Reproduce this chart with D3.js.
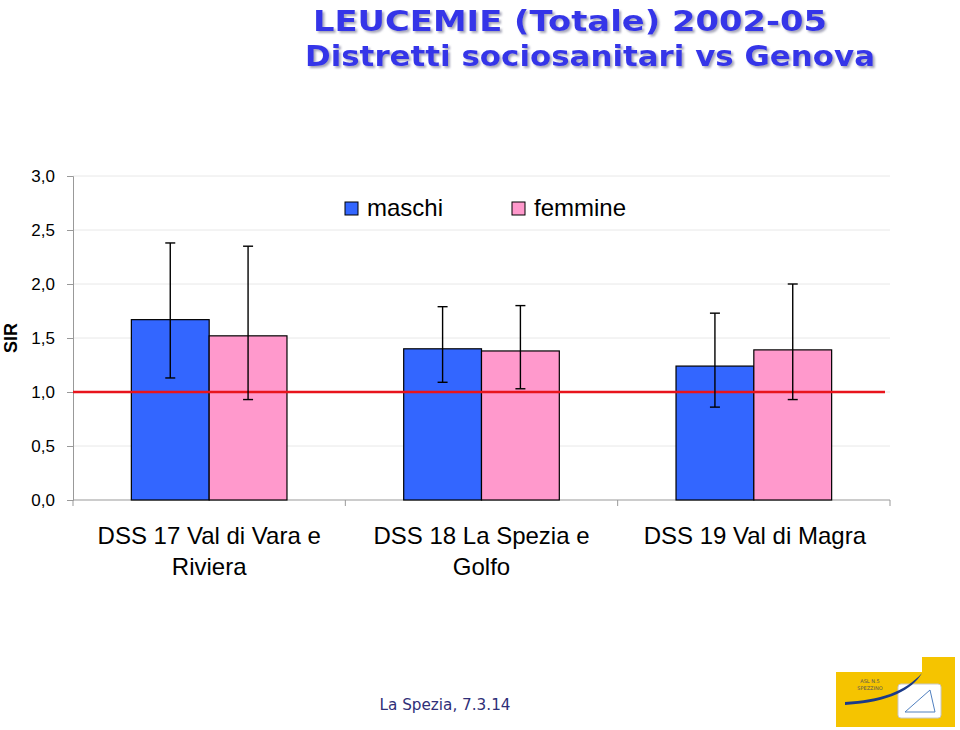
<!DOCTYPE html>
<html><head><meta charset="utf-8">
<script src="https://cdn.jsdelivr.net/npm/d3@7"></script>
<style>body{margin:0;background:#fff;}svg{display:block;}</style>
</head><body>
<script>
const categories = [["DSS 17 Val di Vara e","Riviera"],["DSS 18 La Spezia e","Golfo"],["DSS 19 Val di Magra"]];
const seriesNames = ["maschi","femmine"];
const maschi = [1.67, 1.40, 1.24];
const femmine = [1.52, 1.38, 1.39];
const maschiLow = [1.13, 1.09, 0.86];
const maschiHigh = [2.38, 1.79, 1.73];
const femmineLow = [0.93, 1.03, 0.93];
const femmineHigh = [2.35, 1.80, 2.00];
const yTicks = [0, 0.5, 1.0, 1.5, 2.0, 2.5, 3.0];
const reference = 1.0;

const W = 960, H = 730;
const svg = d3.select("body").append("svg").attr("width", W).attr("height", H);

const defs = svg.append("defs");
const f = defs.append("filter").attr("id", "shadow").attr("x", "-5%").attr("y", "-20%").attr("width", "110%").attr("height", "150%");
f.append("feDropShadow").attr("dx", 2).attr("dy", 2).attr("stdDeviation", 0.8)
  .attr("flood-color", "#9090a8").attr("flood-opacity", 0.8);

// Title with shadow
const titleFont = "'DejaVu Sans', sans-serif";
function shadowText(txt, x, y, len) {
  svg.append("text").attr("x", x).attr("y", y).attr("text-anchor","middle")
    .attr("font-family", titleFont).attr("font-weight","bold").attr("font-size", 28)
    .attr("fill","#3636e8").attr("filter", "url(#shadow)")
    .attr("textLength", len).attr("lengthAdjust","spacingAndGlyphs").text(txt);
}
shadowText("LEUCEMIE (Totale) 2002-05", 570, 31, 514);
shadowText("Distretti sociosanitari vs Genova", 590, 66, 570);

// Chart
const x0 = d3.scaleBand().domain(d3.range(categories.length)).range([73, 890]).paddingInner(0).paddingOuter(0);
const x1 = d3.scaleBand().domain(seriesNames).range([0, x0.bandwidth()]).paddingInner(0).paddingOuter(0.75);
const y = d3.scaleLinear().domain([0, 3]).range([500, 176]);

// gridlines
svg.append("g").selectAll("line").data(yTicks.slice(1)).join("line")
  .attr("x1", 73).attr("x2", 890).attr("y1", d => y(d)).attr("y2", d => y(d))
  .attr("stroke", "#e8e8e8").attr("stroke-width", 1);

// y axis
const yAxis = d3.axisLeft(y).tickValues(yTicks).tickSize(6).tickPadding(12)
  .tickFormat(d => d3.format(".1f")(d).replace(".", ","));
const gy = svg.append("g").attr("transform", "translate(73,0)").call(yAxis);
gy.select(".domain").attr("stroke", "#999");
gy.selectAll(".tick line").attr("stroke", "#999");
gy.selectAll("text").attr("font-family", "'Liberation Sans', Arial, sans-serif").attr("font-size", 17).attr("fill", "#000");

svg.append("text").attr("transform", "translate(17,338) rotate(-90)").attr("text-anchor", "middle")
  .attr("font-family", "'Liberation Sans', Arial, sans-serif").attr("font-weight", "bold").attr("font-size", 18).text("SIR");

// x axis
const gx = svg.append("g").attr("transform", "translate(0,500)");
gx.append("line").attr("x1", 73).attr("x2", 890).attr("stroke", "#999");
gx.selectAll("line.t").data([0,1,2,3]).join("line").attr("class","t")
  .attr("x1", d => 73 + d * x0.bandwidth()).attr("x2", d => 73 + d * x0.bandwidth())
  .attr("y1", 0).attr("y2", 6).attr("stroke", "#999");
categories.forEach((lines, i) => {
  const t = gx.append("text").attr("text-anchor", "middle")
    .attr("font-family", "'Liberation Sans', Arial, sans-serif").attr("font-size", 24).attr("fill", "#000");
  lines.forEach((l, j) => t.append("tspan").attr("x", x0(i) + x0.bandwidth()/2 + (i===2?1:0)).attr("y", 44 + j*31).text(l));
});

// bars
const colors = {maschi: "#3366ff", femmine: "#ff99cc"};
const data = seriesNames.map(s => ({name: s, vals: s === "maschi" ? maschi : femmine,
  lo: s === "maschi" ? maschiLow : femmineLow, hi: s === "maschi" ? maschiHigh : femmineHigh}));
data.forEach(s => {
  s.vals.forEach((v, i) => {
    svg.append("rect").attr("x", x0(i) + x1(s.name)).attr("y", y(v))
      .attr("width", x1.bandwidth()).attr("height", y(0) - y(v))
      .attr("fill", colors[s.name]).attr("stroke", "#000").attr("stroke-width", 1.2);
  });
});

// reference line
svg.append("line").attr("x1", 73).attr("x2", 885).attr("y1", y(reference)).attr("y2", y(reference))
  .attr("stroke", "#e8141c").attr("stroke-width", 2.5);

// error bars
data.forEach(s => {
  s.vals.forEach((v, i) => {
    const cx = x0(i) + x1(s.name) + x1.bandwidth()/2;
    const g = svg.append("g").attr("stroke", "#000").attr("stroke-width", 1.4);
    g.append("line").attr("x1", cx).attr("x2", cx).attr("y1", y(s.hi[i])).attr("y2", y(s.lo[i]));
    g.append("line").attr("x1", cx-5).attr("x2", cx+5).attr("y1", y(s.hi[i])).attr("y2", y(s.hi[i]));
    g.append("line").attr("x1", cx-5).attr("x2", cx+5).attr("y1", y(s.lo[i])).attr("y2", y(s.lo[i]));
  });
});

// legend
const leg = svg.append("g");
[[345, 367, "maschi"], [512, 534, "femmine"]].forEach(([bx, tx, name]) => {
  leg.append("rect").attr("x", bx).attr("y", 202).attr("width", 13).attr("height", 13)
    .attr("fill", colors[name]).attr("stroke", "#000").attr("stroke-width", 1);
  leg.append("text").attr("x", tx).attr("y", 216).attr("font-family", "'Liberation Sans', Arial, sans-serif")
    .attr("font-size", 24).text(name);
});

// footer
svg.append("text").attr("x", 445).attr("y", 710).attr("text-anchor", "middle")
  .attr("font-family", "'DejaVu Sans', sans-serif").attr("font-size", 16).attr("fill", "#2f2f78")
  .attr("textLength", 131).attr("lengthAdjust", "spacingAndGlyphs").text("La Spezia, 7.3.14");

// logo
const logo = svg.append("g");
logo.append("rect").attr("x", 922).attr("y", 657).attr("width", 33).attr("height", 70).attr("fill", "#f5c400");
logo.append("rect").attr("x", 836).attr("y", 672).attr("width", 119).attr("height", 55).attr("fill", "#f5c400");
logo.append("rect").attr("x", 898).attr("y", 684).attr("width", 43).attr("height", 34).attr("rx", 3)
  .attr("fill", "#fff").attr("stroke", "#c8c8c8");
logo.append("path").attr("d", "M845,702 C880,700 905,692 922,673 C912,690 890,702 845,705 Z").attr("fill", "#1a3a8a");
logo.append("path").attr("d", "M905,712 L930,690 L935,712 Z").attr("fill", "none").attr("stroke", "#5080c0").attr("stroke-width", 1);
logo.append("text").attr("x", 870).attr("y", 683).attr("text-anchor", "middle").attr("font-family", "'DejaVu Sans', sans-serif")
  .attr("font-size", 5).attr("fill", "#555").text("ASL N.5");
logo.append("text").attr("x", 870).attr("y", 690).attr("text-anchor", "middle").attr("font-family", "'DejaVu Sans', sans-serif")
  .attr("font-size", 5).attr("fill", "#555").text("SPEZZINO");
</script>
</body></html>
